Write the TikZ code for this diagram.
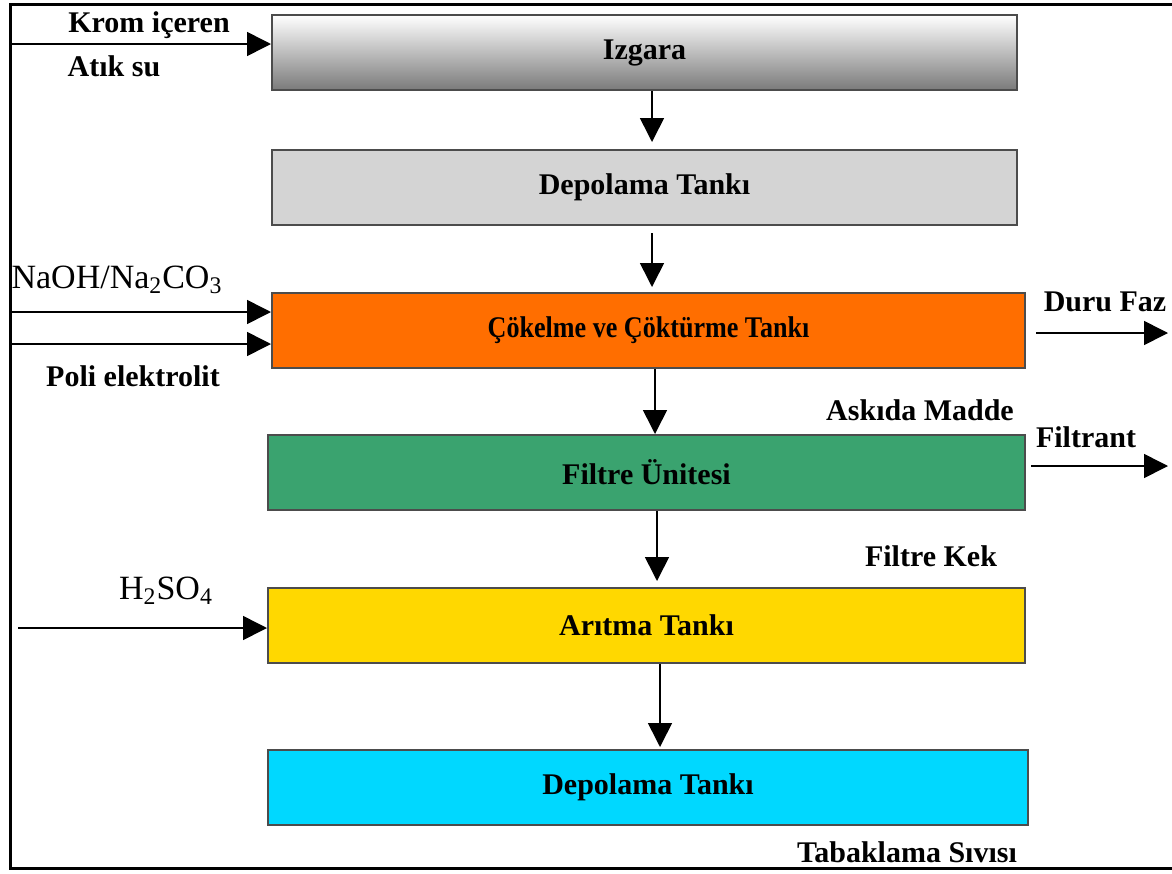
\documentclass[tikz,border=0pt]{standalone}
\usepackage{fontspec}
\setmainfont{Liberation Serif}
\usetikzlibrary{arrows.meta,calc}

\definecolor{orng}{HTML}{FF6E00}
\definecolor{grn}{HTML}{3AA36F}
\definecolor{ylw}{HTML}{FFD800}
\definecolor{cyn}{HTML}{00D8FF}

\tikzset{
  box/.style={draw=black!70,line width=1pt,minimum height=37.5pt},
  flow/.style={line width=.8pt,-{Triangle[length=12pt,width=12pt]}},
  chem/.style={font=\fontsize{17}{20}\selectfont}
}

\begin{document}
\begin{tikzpicture}[x=.5pt,y=-.5pt,font=\fontsize{15}{18}\selectfont\bfseries]
\useasboundingbox (0,0) rectangle (1172,873);
\draw[line width=1.5pt] (1172,4) -- (10,4) -- (10,868) -- (1172,868);

% process units
\node[box,top color=white,middle color=black!12,bottom color=black!52,minimum width=372.5pt] (izgara) at (644.5,52.5) {Izgara};
\node[box,fill=black!17,minimum width=372.5pt] (depo1) at (644.5,187.5) {Depolama Tankı};
\node[box,fill=orng,minimum width=376.5pt] (cokelme) at (648.5,330.5) {\scalebox{.87}[1]{Çökelme ve Çöktürme Tankı}};
\node[box,fill=grn,minimum width=378.5pt] (filtre) at (646.5,472.5) {Filtre Ünitesi};
\node[box,fill=ylw,minimum width=378.5pt] (aritma) at (646.5,625.5) {Arıtma Tankı};
\node[box,fill=cyn,minimum width=380pt] (depo2) at (648,787.5) {Depolama Tankı};

\draw[flow,shorten >=3.5pt] ($(izgara.south)+(7.5,0)$) -- ($(depo1.north)+(7.5,0)$);
\draw[flow,shorten <=3.5pt,shorten >=2.5pt] ($(depo1.south)+(7.5,0)$) -- ($(cokelme.north)+(3.5,0)$);
\draw[flow] ($(cokelme.south)+(6.5,0)$) -- ($(filtre.north)+(8.5,0)$);
\draw[flow,shorten >=3pt] ($(filtre.south)+(10.5,0)$) -- ($(aritma.north)+(10.5,0)$);
\draw[flow,shorten >=1pt] ($(aritma.south)+(13.5,0)$) -- ($(depo2.north)+(12,0)$);

% feeds and outlets
\coordinate (krom) at (10,44);
\coordinate (naoh) at (10,312);
\coordinate (poli) at (10,344);
\coordinate (asit) at (18,628);
\coordinate (duru) at (1168,333);
\coordinate (filt) at (1168,466);
\draw[flow] (krom) -- (krom -| izgara.west);
\draw[flow] (naoh) -- (naoh -| cokelme.west);
\draw[flow] (poli) -- (poli -| cokelme.west);
\draw[flow] (asit) -- (asit -| aritma.west);
\draw[flow,shorten <=5pt] (cokelme.east |- duru) -- (duru);
\draw[flow,shorten <=2.5pt] (filtre.east |- filt) -- (filt);

\node (lkrom) at (149,25) {Krom içeren};
\node (latik) at (114,66) {Atık su};
\node[chem] (lnaoh) at (117,280) {NaOH/Na\textsubscript{2}CO\textsubscript{3}};
\node (lpoli) at (133,376) {Poli elektrolit};
\node[chem] (lasit) at (166,591) {H\textsubscript{2}SO\textsubscript{4}};
\node (lduru) at (1105,302) {Duru Faz};
\node (lfilt) at (1086,437) {Filtrant};
\node (laskida) at (920,410) {Askıda Madde};
\node (lkek) at (931,556) {Filtre Kek};
\node (ltab) at (907,852) {Tabaklama Sıvısı};
\end{tikzpicture}
\end{document}
